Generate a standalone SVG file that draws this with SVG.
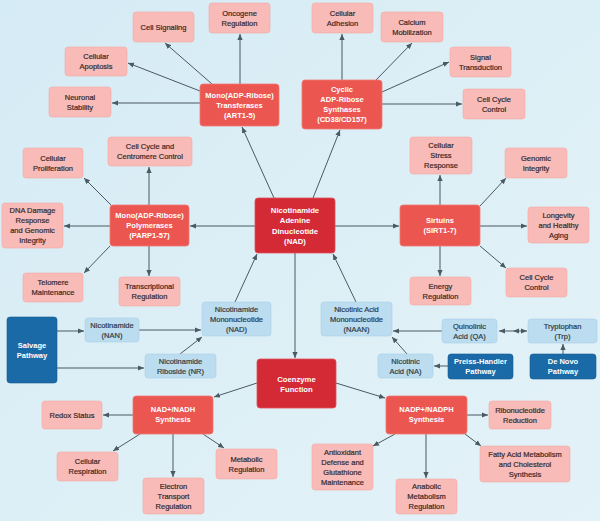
<svg xmlns="http://www.w3.org/2000/svg" width="600" height="521" viewBox="0 0 600 521">
<defs>
<linearGradient id="bg" x1="0" y1="0" x2="1" y2="1">
<stop offset="0" stop-color="#d5ebf5"/>
<stop offset="0.5" stop-color="#ddeff6"/>
<stop offset="1" stop-color="#e3f2f8"/>
</linearGradient>
<marker id="ah" viewBox="0 0 6 6" refX="6" refY="3" markerWidth="6" markerHeight="6" markerUnits="userSpaceOnUse" orient="auto-start-reverse">
<path d="M0,0.4 L6,3 L0,5.6 z" fill="#4b5963"/>
</marker>
<style>
text{font-family:"Liberation Sans",Arial,sans-serif;font-size:7.5px;text-anchor:middle}
.o rect{fill:#f9bbb7;stroke:#f3a8a4;stroke-width:0.6}
.o text{fill:#35292a;stroke:#35292a;stroke-width:0.2}
.m rect{fill:#ec5651;stroke:#f07a74;stroke-width:0.8}
.m text{fill:#ffffff;font-weight:bold}
.c rect{fill:#d32a35;stroke:#e0505a;stroke-width:0.8}
.c text{fill:#ffffff;font-weight:bold;font-size:7.7px}
.b rect{fill:#bcdcf0;stroke:#a9d0ea;stroke-width:0.6}
.b text{fill:#2f3b45;stroke:#2f3b45;stroke-width:0.2}
.d rect{fill:#1b6aa8;stroke:#155a92;stroke-width:0.6}
.d text{fill:#ffffff;font-weight:bold}
#connectors line,#connectors polyline{stroke:#4b5963;stroke-width:1;fill:none;marker-end:url(#ah)}
</style>
</defs>
<rect x="0" y="0" width="600" height="521" fill="url(#bg)"/>

<g id="connectors">
<line x1="240" y1="84" x2="240" y2="34"/>
<line x1="212" y1="84" x2="165" y2="43"/>
<line x1="200" y1="91" x2="128" y2="63"/>
<line x1="200" y1="103" x2="112" y2="103"/>
<line x1="342" y1="80" x2="342" y2="34"/>
<line x1="376" y1="80" x2="412" y2="43"/>
<line x1="382" y1="92" x2="449" y2="62"/>
<line x1="382" y1="104" x2="462" y2="104"/>
<line x1="274" y1="198" x2="242" y2="127"/>
<line x1="313" y1="198" x2="340" y2="130"/>
<line x1="255" y1="226" x2="190" y2="226"/>
<line x1="149" y1="205" x2="149" y2="167"/>
<line x1="111" y1="205" x2="84" y2="178"/>
<line x1="110" y1="226" x2="64" y2="226"/>
<line x1="110" y1="246" x2="84" y2="273"/>
<line x1="149" y1="246" x2="149" y2="276"/>
<line x1="335" y1="226" x2="399" y2="226"/>
<line x1="440" y1="205" x2="440" y2="175"/>
<line x1="480" y1="206" x2="506" y2="178"/>
<line x1="480" y1="226" x2="527" y2="226"/>
<line x1="480" y1="246" x2="506" y2="268"/>
<line x1="440" y1="246" x2="440" y2="276"/>
<line x1="235" y1="302" x2="257" y2="254"/>
<line x1="356" y1="302" x2="333" y2="254"/>
<line x1="295" y1="253" x2="295" y2="358"/>
<line x1="57" y1="331" x2="84" y2="331"/>
<line x1="139" y1="330" x2="201" y2="330"/>
<line x1="57" y1="368" x2="144" y2="368"/>
<line x1="180" y1="354" x2="202" y2="337"/>
<line x1="442" y1="331" x2="393" y2="331"/>
<polyline points="527,331 513,331 499,331" style="marker-start:url(#ah);marker-mid:url(#ah)"/>
<line x1="563" y1="354" x2="563" y2="344"/>
<line x1="448" y1="366" x2="434" y2="366"/>
<line x1="407" y1="354" x2="392" y2="337"/>
<line x1="257" y1="383" x2="214" y2="397"/>
<line x1="336" y1="383" x2="385" y2="398"/>
<line x1="133" y1="415" x2="103" y2="415"/>
<line x1="140" y1="434" x2="113" y2="451"/>
<line x1="173" y1="434" x2="173" y2="477"/>
<line x1="203" y1="434" x2="224" y2="448"/>
<line x1="467" y1="415" x2="488" y2="415"/>
<line x1="395" y1="434" x2="373" y2="446"/>
<line x1="426" y1="434" x2="426" y2="478"/>
<line x1="465" y1="434" x2="481" y2="446"/>
</g>

<!-- core -->
<g id="nad" class="c"><rect x="255" y="198" width="80" height="55" rx="3"/><text x="295" y="213">Nicotinamide</text><text x="295" y="223.3">Adenine</text><text x="295" y="233.6">Dinucleotide</text><text x="295" y="243.9">(NAD)</text></g>
<g id="coenzyme" class="c"><rect x="257" y="359" width="79" height="49" rx="3"/><text x="296.5" y="381.5">Coenzyme</text><text x="296.5" y="392">Function</text></g>

<!-- mid -->
<g id="art" class="m"><rect x="200" y="84" width="79" height="42" rx="3"/><text x="239.5" y="97.5">Mono(ADP-Ribose)</text><text x="239.5" y="107.5">Transferases</text><text x="239.5" y="117.5">(ART1-5)</text></g>
<g id="cd38" class="m"><rect x="302" y="80" width="80" height="49" rx="3"/><text x="342" y="92">Cyclic</text><text x="342" y="102">ADP-Ribose</text><text x="342" y="112">Synthases</text><text x="342" y="122">(CD38/CD157)</text></g>
<g id="parp" class="m"><rect x="110" y="205" width="79" height="41" rx="3"/><text x="149.5" y="218">Mono(ADP-Ribose)</text><text x="149.5" y="228">Polymerases</text><text x="149.5" y="238">(PARP1-57)</text></g>
<g id="sirt" class="m"><rect x="400" y="205" width="80" height="41" rx="3"/><text x="440" y="223">Sirtuins</text><text x="440" y="233">(SIRT1-7)</text></g>
<g id="nadh" class="m"><rect x="133" y="396" width="80" height="38" rx="3"/><text x="173" y="412">NAD+/NADH</text><text x="173" y="422">Synthesis</text></g>
<g id="nadph" class="m"><rect x="386" y="396" width="81" height="38" rx="3"/><text x="426.5" y="412">NADP+/NADPH</text><text x="426.5" y="422">Synthesis</text></g>

<!-- outcomes -->
<g id="cellsig" class="o"><rect x="133" y="12" width="61" height="30" rx="3"/><text x="163.5" y="29.5">Cell Signaling</text></g>
<g id="oncogene" class="o"><rect x="209" y="3" width="61" height="30" rx="3"/><text x="239.5" y="15.5">Oncogene</text><text x="239.5" y="25.5">Regulation</text></g>
<g id="apoptosis" class="o"><rect x="65" y="47" width="62" height="29" rx="3"/><text x="96" y="59">Cellular</text><text x="96" y="69">Apoptosis</text></g>
<g id="neuronal" class="o"><rect x="49" y="87" width="62" height="30" rx="3"/><text x="80" y="99.5">Neuronal</text><text x="80" y="109.5">Stability</text></g>
<g id="adhesion" class="o"><rect x="312" y="3" width="61" height="30" rx="3"/><text x="342.5" y="15.5">Cellular</text><text x="342.5" y="25.5">Adhesion</text></g>
<g id="calcium" class="o"><rect x="381" y="12" width="62" height="30" rx="3"/><text x="412" y="24.5">Calcium</text><text x="412" y="34.5">Mobilization</text></g>
<g id="signal" class="o"><rect x="450" y="47" width="61" height="30" rx="3"/><text x="480.5" y="59.5">Signal</text><text x="480.5" y="69.5">Transduction</text></g>
<g id="cellcycle1" class="o"><rect x="463" y="89" width="62" height="30" rx="3"/><text x="494" y="101.5">Cell Cycle</text><text x="494" y="111.5">Control</text></g>
<g id="prolif" class="o"><rect x="23" y="148" width="60" height="30" rx="3"/><text x="53" y="160.5">Cellular</text><text x="53" y="170.5">Proliferation</text></g>
<g id="centromere" class="o"><rect x="108" y="137" width="84" height="29" rx="3"/><text x="150" y="149">Cell Cycle and</text><text x="150" y="159">Centromere Control</text></g>
<g id="dna" class="o"><rect x="2" y="203" width="61" height="45" rx="3"/><text x="32.5" y="213">DNA Damage</text><text x="32.5" y="223">Response</text><text x="32.5" y="233">and Genomic</text><text x="32.5" y="243">Integrity</text></g>
<g id="telomere" class="o"><rect x="23" y="273" width="60" height="29" rx="3"/><text x="53" y="285">Telomere</text><text x="53" y="295">Maintenance</text></g>
<g id="transcr" class="o"><rect x="119" y="277" width="61" height="29" rx="3"/><text x="149.5" y="289">Transcriptional</text><text x="149.5" y="299">Regulation</text></g>
<g id="stress" class="o"><rect x="410" y="137" width="62" height="37" rx="3"/><text x="441" y="148">Cellular</text><text x="441" y="158">Stress</text><text x="441" y="168">Response</text></g>
<g id="genomic" class="o"><rect x="505" y="148" width="62" height="30" rx="3"/><text x="536" y="160.5">Genomic</text><text x="536" y="170.5">Integrity</text></g>
<g id="longevity" class="o"><rect x="528" y="207" width="61" height="36" rx="3"/><text x="558.5" y="217.5">Longevity</text><text x="558.5" y="227.5">and Healthy</text><text x="558.5" y="237.5">Aging</text></g>
<g id="cellcycle2" class="o"><rect x="506" y="268" width="61" height="29" rx="3"/><text x="536.5" y="280">Cell Cycle</text><text x="536.5" y="290">Control</text></g>
<g id="energy" class="o"><rect x="410" y="277" width="61" height="28" rx="3"/><text x="440.5" y="288.5">Energy</text><text x="440.5" y="298.5">Regulation</text></g>
<g id="redox" class="o"><rect x="42" y="401" width="60" height="28" rx="3"/><text x="72" y="417.5">Redox Status</text></g>
<g id="resp" class="o"><rect x="57" y="452" width="61" height="29" rx="3"/><text x="87.5" y="464">Cellular</text><text x="87.5" y="474">Respiration</text></g>
<g id="electron" class="o"><rect x="143" y="478" width="61" height="36" rx="3"/><text x="173.5" y="488.5">Electron</text><text x="173.5" y="498.5">Transport</text><text x="173.5" y="508.5">Regulation</text></g>
<g id="metabolic" class="o"><rect x="216" y="449" width="61" height="30" rx="3"/><text x="246.5" y="461.5">Metabolic</text><text x="246.5" y="471.5">Regulation</text></g>
<g id="ribo" class="o"><rect x="489" y="401" width="62" height="28" rx="3"/><text x="520" y="412.5">Ribonucleotide</text><text x="520" y="422.5">Reduction</text></g>
<g id="antiox" class="o"><rect x="312" y="444" width="61" height="46" rx="3"/><text x="342.5" y="454.5">Antioxidant</text><text x="342.5" y="464.5">Defense and</text><text x="342.5" y="474.5">Glutathione</text><text x="342.5" y="484.5">Maintenance</text></g>
<g id="anabolic" class="o"><rect x="396" y="479" width="61" height="35" rx="3"/><text x="426.5" y="489">Anabolic</text><text x="426.5" y="499">Metabolism</text><text x="426.5" y="509">Regulation</text></g>
<g id="fatty" class="o"><rect x="480" y="446" width="90" height="36" rx="3"/><text x="525" y="456.5">Fatty Acid Metabolism</text><text x="525" y="466.5">and Cholesterol</text><text x="525" y="476.5">Synthesis</text></g>

<!-- precursors -->
<g id="nam" class="b"><rect x="85" y="318" width="54" height="24" rx="3"/><text x="112" y="327.5">Nicotinamide</text><text x="112" y="337.5">(NAN)</text></g>
<g id="nmn" class="b"><rect x="202" y="302" width="69" height="34" rx="3"/><text x="236.5" y="311.5">Nicotinamide</text><text x="236.5" y="321.5">Mononucleotide</text><text x="236.5" y="331.5">(NAD)</text></g>
<g id="nr" class="b"><rect x="145" y="354" width="71" height="24" rx="3"/><text x="180.5" y="363.5">Nicotinamide</text><text x="180.5" y="373.5">Riboside (NR)</text></g>
<g id="naan" class="b"><rect x="321" y="302" width="71" height="34" rx="3"/><text x="356.5" y="311.5">Nicotinic Acid</text><text x="356.5" y="321.5">Mononucleotide</text><text x="356.5" y="331.5">(NAAN)</text></g>
<g id="qa" class="b"><rect x="442" y="319" width="55" height="24" rx="3"/><text x="469.5" y="328.5">Quinolinic</text><text x="469.5" y="338.5">Acid (QA)</text></g>
<g id="trp" class="b"><rect x="528" y="319" width="69" height="24" rx="3"/><text x="562.5" y="328.5">Tryptophan</text><text x="562.5" y="338.5">(Trp)</text></g>
<g id="na" class="b"><rect x="378" y="354" width="55" height="24" rx="3"/><text x="405.5" y="363.5">Nicotinic</text><text x="405.5" y="373.5">Acid (NA)</text></g>

<!-- pathways -->
<g id="salvage" class="d"><rect x="7" y="317" width="50" height="66" rx="3"/><text x="32" y="347.5">Salvage</text><text x="32" y="357.5">Pathway</text></g>
<g id="preiss" class="d"><rect x="448" y="354" width="65" height="25" rx="3"/><text x="480.5" y="364">Preiss-Handler</text><text x="480.5" y="374">Pathway</text></g>
<g id="denovo" class="d"><rect x="530" y="354" width="66" height="25" rx="3"/><text x="563" y="364">De Novo</text><text x="563" y="374">Pathway</text></g>
</svg>
